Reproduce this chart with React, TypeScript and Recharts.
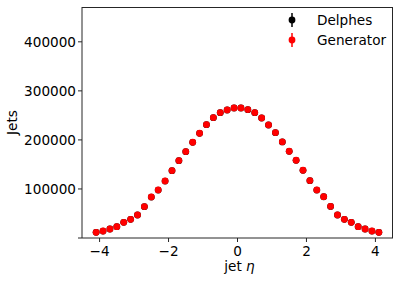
import React from 'react';
import { ScatterChart, Scatter, XAxis, YAxis } from 'recharts';

// bin centres in jet eta
const etaBins = [
  -4.1, -3.9, -3.7, -3.5, -3.3, -3.1, -2.9, -2.7, -2.5, -2.3, -2.1,
  -1.9, -1.7, -1.5, -1.3, -1.1, -0.9, -0.7, -0.5, -0.3, -0.1,
  0.1, 0.3, 0.5, 0.7, 0.9, 1.1, 1.3, 1.5, 1.7, 1.9,
  2.1, 2.3, 2.5, 2.7, 2.9, 3.1, 3.3, 3.5, 3.7, 3.9, 4.1,
];

const generatorJets = [
  11600, 14300, 18400, 23100, 32000, 38100, 47000, 64000, 83700, 98000, 116300,
  137400, 157800, 176200, 195200, 213600, 231300, 245600, 255800, 261200, 265300,
  265300, 261900, 255800, 244900, 230600, 215000, 196000, 176900, 158500, 138100,
  117000, 98000, 84300, 64600, 47000, 38100, 32000, 23100, 18400, 14300, 11600,
];

// hidden underneath the generator markers
const delphesJets = [
  11500, 14200, 18300, 23000, 31900, 38000, 46900, 63800, 83500, 97800, 116100,
  137200, 157600, 176000, 195000, 213400, 231100, 245400, 255600, 261000, 265100,
  265100, 261700, 255600, 244700, 230400, 214800, 195800, 176700, 158300, 137900,
  116800, 97800, 84100, 64400, 46900, 38000, 31900, 23000, 18300, 14200, 11500,
];

const xTicks = [-4, -2, 0, 2, 4];
const yTicks = [0, 100000, 200000, 300000, 400000];

const generatorData = etaBins.map((eta, i) => ({ eta, jets: generatorJets[i] }));
const delphesData = etaBins.map((eta, i) => ({ eta, jets: delphesJets[i] }));

const X_DOMAIN = [-4.51, 4.51];
const Y_DOMAIN = [0, 471000];
const FRAME = '#262626';

const dot = (color: string) => (props: any) => (
  <circle cx={props.cx} cy={props.cy} r={3.4} fill={color} />
);

const fmtX = (v: number) => (v < 0 ? '\u2212' + Math.abs(v) : String(v));

const XLabel = ({ viewBox }: any) => (
  <text x={viewBox.x + viewBox.width / 2 + 2} y={271} textAnchor="middle" fontSize={13.6} fill="#000">
    jet <tspan fontStyle="italic">η</tspan>
  </text>
);

const YLabel = () => (
  <text x={0} y={0} transform="translate(17,122.5) rotate(-90)" textAnchor="middle" fontSize={13.6} fill="#000">
    Jets
  </text>
);

const LegendMarker = ({ color }: { color: string }) => (
  <svg width={14} height={16} style={{ display: 'block' }}>
    <line x1={7} y1={1} x2={7} y2={15} stroke={color} strokeWidth={1.5} />
    <circle cx={7} cy={8} r={3.4} fill={color} />
  </svg>
);

const App = () => {
  return (
    <div style={{ position: 'absolute', left: 0, top: 0, width: 399, height: 282, fontFamily: '"DejaVu Sans", sans-serif', background: '#fff' }}>
      <ScatterChart width={399} height={282} margin={{ top: 7, right: 6, left: 0, bottom: 0 }}>
        <XAxis
          type="number"
          dataKey="eta"
          domain={X_DOMAIN}
          ticks={xTicks}
          tickFormatter={fmtX}
          allowDataOverflow
          height={44}
          tickSize={4}
          tickMargin={4}
          stroke={FRAME}
          tick={{ fill: '#000', fontSize: 13.6 }}
          label={<XLabel />}
        />
        <YAxis
          type="number"
          dataKey="jets"
          domain={Y_DOMAIN}
          ticks={yTicks}
          tickFormatter={(v: number) => (v === 0 ? '' : String(v))}
          allowDataOverflow
          width={82}
          tickSize={4}
          tickMargin={2}
          stroke={FRAME}
          tick={{ fill: '#000', fontSize: 13.6 }}
          label={<YLabel />}
        />
        <Scatter name="Delphes" data={delphesData} shape={dot('#000000')} isAnimationActive={false} />
        <Scatter name="Generator" data={generatorData} shape={dot('#ff0000')} isAnimationActive={false} />
      </ScatterChart>
      {/* top and right spines */}
      <div
        style={{
          position: 'absolute', left: 82, top: 7, width: 311, height: 231,
          borderTop: `1px solid ${FRAME}`, borderRight: `1px solid ${FRAME}`,
          boxSizing: 'border-box', pointerEvents: 'none',
        }}
      />
      <div style={{ position: 'absolute', left: 285, top: 10, fontSize: 13.6, lineHeight: '20px', color: '#000' }}>
        <div style={{ display: 'flex', alignItems: 'center', height: 20 }}>
          <LegendMarker color="#000000" />
          <span style={{ marginLeft: 18 }}>Delphes</span>
        </div>
        <div style={{ display: 'flex', alignItems: 'center', height: 20 }}>
          <LegendMarker color="#ff0000" />
          <span style={{ marginLeft: 18 }}>Generator</span>
        </div>
      </div>
    </div>
  );
};

export default App;
